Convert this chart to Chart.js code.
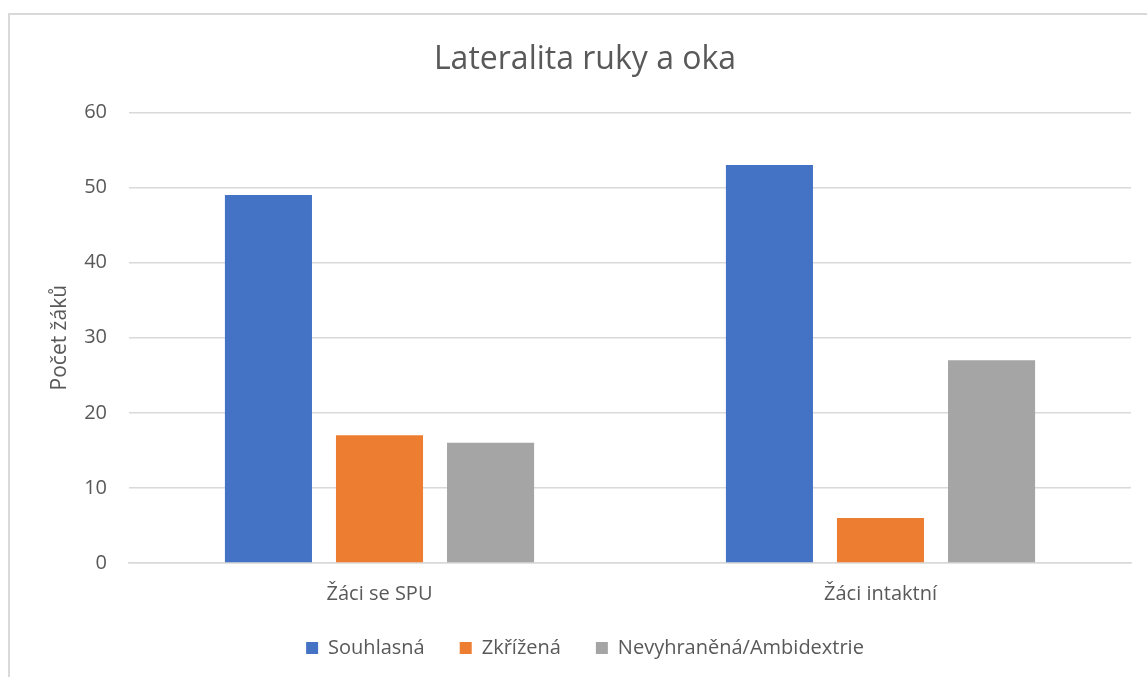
<!DOCTYPE html>
<html>
<head>
<meta charset="utf-8">
<script src="https://cdn.jsdelivr.net/npm/chart.js@4/dist/chart.umd.min.js"></script>
<style>
  html, body { margin: 0; padding: 0; background: #fff; overflow: hidden; }
  #frame { position: absolute; left: 8px; top: 13px; width: 1300px; height: 800px;
           border-left: 2px solid #d9d9d9; border-top: 2px solid #d9d9d9; }
  #wrap { position: absolute; left: 0; top: 0; width: 1147px; height: 677px; }
</style>
</head>
<body>
<div id="frame"></div>
<div id="wrap"><canvas id="chart" width="1147" height="677"></canvas></div>
<script>
const categories = ['Žáci se SPU', 'Žáci intaktní'];
const souhlasna = [49, 53];
const zkrizena = [17, 6];
const nevyhranena = [16, 27];
const yTicks = [0, 10, 20, 30, 40, 50, 60];

const textColor = '#595959';
const fontFamily = '"Open Sans", "Noto Sans", sans-serif';

let ctx = document.getElementById('chart').getContext('2d');

const chart = new Chart(ctx, {
    type: 'bar',
    data: {
        labels: categories,
        datasets: [
            { label: 'Souhlasná', data: souhlasna, backgroundColor: '#4472C4' },
            { label: 'Zkřížená', data: zkrizena, backgroundColor: '#ED7D31' },
            { label: 'Nevyhraněná/Ambidextrie', data: nevyhranena, backgroundColor: '#A5A5A5' }
        ]
    },
    options: {
        responsive: false,
        animation: false,
        datasets: {
            bar: { categoryPercentage: 0.665, barPercentage: 0.784 }
        },
        // left padding keeps title and legend centred like the original
        layout: { padding: { left: 39, right: 16, top: 0, bottom: 9 } },
        plugins: {
            title: {
                display: true,
                text: 'Lateralita ruky a oka',
                color: textColor,
                font: { family: fontFamily, size: 32, weight: 'normal' },
                padding: { top: 41, bottom: 33 }
            },
            legend: {
                position: 'bottom',
                labels: {
                    color: textColor,
                    font: { family: fontFamily, size: 20 },
                    boxWidth: 12,
                    boxHeight: 12,
                    padding: 35
                }
            },
            tooltip: { enabled: false }
        },
        scales: {
            x: {
                grid: { display: false, drawTicks: false },
                border: { color: '#d9d9d9', width: 1.5 },
                ticks: { color: textColor, font: { family: fontFamily, size: 20 }, padding: 19 },
                afterFit: s => { s.height = 40; }
            },
            y: {
                min: 0,
                max: 60,
                grid: { color: '#d9d9d9', lineWidth: 1.5, drawTicks: false },
                border: { display: false },
                afterBuildTicks: s => { s.ticks = yTicks.map(v => ({ value: v })); },
                ticks: { color: textColor, font: { family: fontFamily, size: 20 }, padding: 22 },
                title: {
                    display: true,
                    text: 'Počet žáků',
                    color: textColor,
                    font: { family: fontFamily, size: 21 },
                    padding: { top: 8, bottom: 0 }
                },
                afterFit: s => { s.width = 90; }
            }
        }
    }
});
</script>
</body>
</html>
